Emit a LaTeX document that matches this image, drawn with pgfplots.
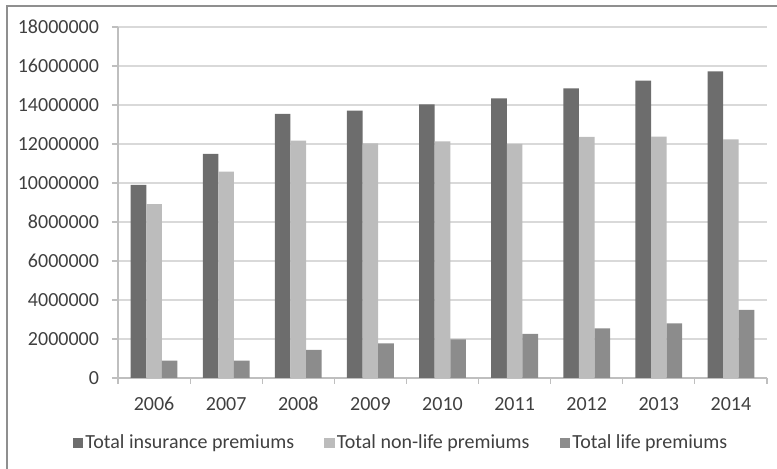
\documentclass[border=0pt]{standalone}
\usepackage{fontspec}
\setmainfont{Carlito}
\usepackage{pgfplots}
\pgfplotsset{compat=1.18}

\definecolor{insdark}{HTML}{6D6D6D}
\definecolor{nonlife}{HTML}{BCBCBC}
\definecolor{life}{HTML}{8C8C8C}
\definecolor{gridgray}{HTML}{D9D9D9}
\definecolor{axisgray}{HTML}{BFBFBF}
\definecolor{textgray}{HTML}{404040}
\definecolor{framegray}{HTML}{8F8F8F}

\begin{document}
\begin{tikzpicture}
% outer chart frame (left and top edges) and fixed page size
\useasboundingbox (0pt,0pt) rectangle (388.5pt,234.5pt);
\draw[framegray, line width=0.7pt] (3.5pt,0pt) -- (3.5pt,231.5pt) -- (388.5pt,231.5pt);

\begin{axis}[
  at={(59pt,45.5pt)}, anchor=south west,
  scale only axis,
  width=324.5pt, height=175.5pt,
  ybar=0pt,
  bar width=7.8pt,
  xmin=-0.5, xmax=8.5,
  ymin=0, ymax=18000000,
  xtick={0,...,8},
  xticklabels={2006,2007,2008,2009,2010,2011,2012,2013,2014},
  major x tick style={draw=none},
  minor xtick={-0.5,0.5,...,8.5},
  minor x tick style={axisgray, line width=0.6pt},
  minor tick length=3pt,
  ytick={0,2000000,...,18000000},
  yticklabels={0,2000000,4000000,6000000,8000000,10000000,12000000,14000000,16000000,18000000},
  scaled y ticks=false,
  ymajorgrids,
  grid style={gridgray, line width=0.6pt},
  major y tick style={axisgray, line width=0.6pt},
  major tick length=3pt,
  tick align=outside,
  axis x line*=bottom,
  axis y line*=left,
  axis line style={axisgray, line width=0.6pt},
  every axis plot/.append style={draw=none},
  tick label style={font=\fontsize{10}{12}\selectfont, text=textgray},
  xticklabel style={yshift=-3pt},
  yticklabel style={xshift=-3pt},
  /pgf/number format/assume math mode=true,
  legend columns=3,
  legend style={
    at={(0.436,-0.185)}, anchor=center,
    draw=none, fill=none,
    font=\fontsize{10}{12}\selectfont, text=textgray,
    /tikz/every even column/.append style={column sep=14pt},
    nodes={inner sep=1pt},
  },
  legend image code/.code={\fill[#1] (0pt,-2.7pt) rectangle (5.4pt,2.7pt);},
]
\addplot[fill=insdark] coordinates {
  (0,9900000) (1,11490000) (2,13550000) (3,13710000) (4,14030000)
  (5,14340000) (6,14850000) (7,15250000) (8,15730000)};
\addplot[fill=nonlife] coordinates {
  (0,8920000) (1,10580000) (2,12170000) (3,12030000) (4,12140000)
  (5,12000000) (6,12360000) (7,12380000) (8,12240000)};
\addplot[fill=life] coordinates {
  (0,890000) (1,890000) (2,1440000) (3,1780000) (4,1980000)
  (5,2260000) (6,2550000) (7,2800000) (8,3490000)};
\legend{Total insurance premiums, Total non-life premiums, Total life premiums}
\end{axis}
\end{tikzpicture}
\end{document}
